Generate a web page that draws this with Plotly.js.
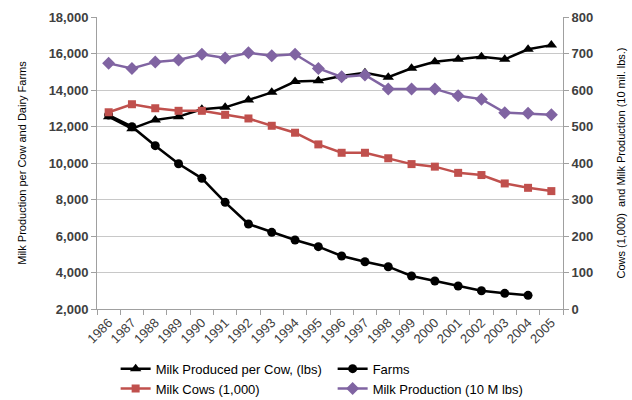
<!DOCTYPE html>
<html>
<head>
<meta charset="utf-8">
<script src="https://cdn.plot.ly/plotly-3.0.1.min.js"></script>
<style>html,body{margin:0;padding:0;background:#fff;}#chart{width:632px;height:400px;}</style>
</head>
<body>
<div id="chart"></div>
<script>
const years = ['1986','1987','1988','1989','1990','1991','1992','1993','1994','1995','1996','1997','1998','1999','2000','2001','2002','2003','2004','2005'];
const farmYears = years.slice(0, 19);
const milkPerCow = [12540, 11880, 12360, 12540, 12940, 13050, 13450, 13870, 14460, 14510, 14770, 14950, 14700, 15190, 15550, 15680, 15820, 15680, 16230, 16460];
const farms = [12630, 11990, 10950, 9960, 9160, 7845, 6656, 6200, 5780, 5414, 4904, 4590, 4317, 3808, 3534, 3260, 3003, 2860, 2750];
const milkCows = [539, 561, 550, 543, 543, 532, 522, 502, 483, 451, 428, 428, 413, 397, 390, 373, 367, 344, 332, 323];
const milkProduction = [673, 659, 677, 682, 698, 688, 702, 694, 698, 659, 636, 641, 603, 603, 603, 584, 575, 538, 536, 532];

const traces = [
  {x: years, y: milkPerCow, name: 'Milk Produced per Cow, (lbs)', type: 'scatter', mode: 'lines+markers',
   line: {color: '#000000', width: 2.5}, marker: {symbol: 'triangle-up', size: 10, color: '#000000'}, yaxis: 'y'},
  {x: farmYears, y: farms, name: 'Farms', type: 'scatter', mode: 'lines+markers',
   line: {color: '#000000', width: 2.5}, marker: {symbol: 'circle', size: 9, color: '#000000'}, yaxis: 'y'},
  {x: years, y: milkCows, name: 'Milk Cows (1,000)', type: 'scatter', mode: 'lines+markers',
   line: {color: '#C0504D', width: 2.5}, marker: {symbol: 'square', size: 8, color: '#C0504D'}, yaxis: 'y2'},
  {x: years, y: milkProduction, name: 'Milk Production (10 M lbs)', type: 'scatter', mode: 'lines+markers',
   line: {color: '#8064A2', width: 2.5}, marker: {symbol: 'diamond', size: 10, color: '#8064A2'}, yaxis: 'y2'}
];

const tickFont = {family: 'Liberation Sans, Arial, sans-serif', size: 13, color: '#404040', weight: 'bold'};
const layout = {
  width: 632, height: 400,
  margin: {l: 97, r: 69, t: 17, b: 91, autoexpand: false},
  paper_bgcolor: '#ffffff', plot_bgcolor: '#ffffff',
  font: {family: 'Liberation Sans, Arial, sans-serif', color: '#000000'},
  showlegend: true,
  xaxis: {
    type: 'category', range: [-0.5, 19.5], tickangle: -45, automargin: false,
    tickson: 'boundaries', ticks: 'outside', ticklen: 5, tickcolor: '#a0a0a0',
    showline: true, linecolor: '#a0a0a0', linewidth: 1, showgrid: false,
    tickfont: {family: 'Liberation Sans, Arial, sans-serif', size: 13, color: '#404040'}
  },
  yaxis: {
    range: [2000, 18000], dtick: 2000, tickformat: ',d', automargin: false,
    showline: true, linecolor: '#a0a0a0', ticks: 'outside', ticklen: 5, tickcolor: '#a0a0a0',
    gridcolor: '#c8c8c8', gridwidth: 1, zeroline: false,
    tickfont: tickFont,
    title: {text: 'Milk Production per Cow and Dairy Farms', font: {size: 11, color: '#000000'}, standoff: 19}
  },
  yaxis2: {
    range: [0, 800], dtick: 100, overlaying: 'y', side: 'right', automargin: false,
    showline: true, linecolor: '#a0a0a0', ticks: 'outside', ticklen: 5, tickcolor: '#a0a0a0',
    showgrid: false, zeroline: false,
    tickfont: tickFont,
    title: {text: 'Cows (1,000)  and Milk Production (10 mil. lbs.)', font: {size: 11, color: '#000000'}, standoff: 24}
  },
  legend: {
    orientation: 'h', x: 0.04, xanchor: 'left', y: -0.153, yanchor: 'top',
    entrywidth: 172, entrywidthmode: 'pixels', itemwidth: 30,
    font: {family: 'Liberation Sans, Arial, sans-serif', size: 13, color: '#000000'},
    tracegroupgap: 0
  }
};
Plotly.newPlot('chart', traces, layout, {displayModeBar: false, staticPlot: true});
</script>
</body>
</html>
